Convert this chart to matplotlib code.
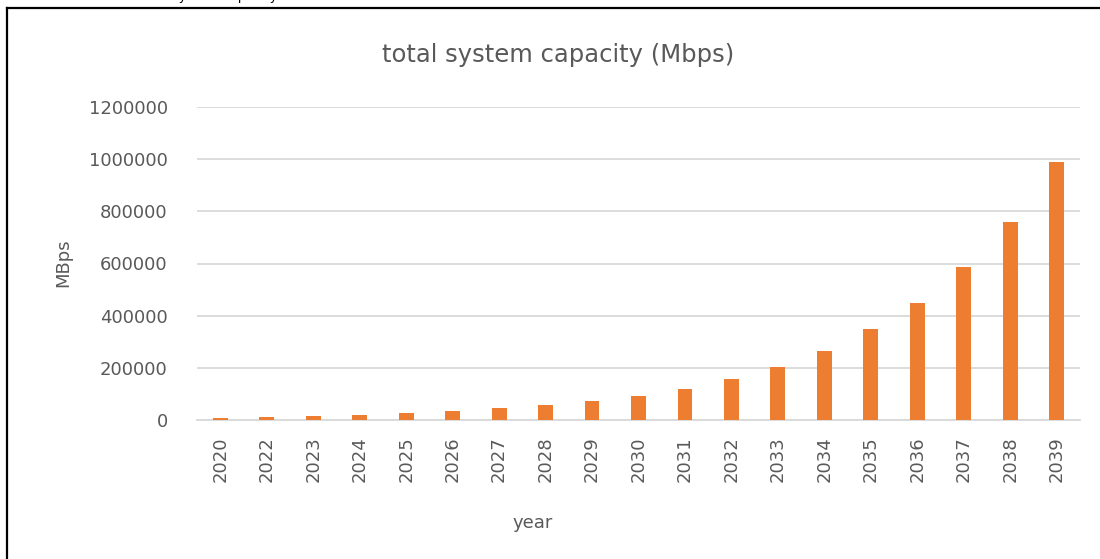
import matplotlib
matplotlib.use("Agg")
from matplotlib import pyplot as plt
from matplotlib import lines as mlines

years = ["2020", "2022", "2023", "2024", "2025", "2026", "2027", "2028", "2029", "2030",
         "2031", "2032", "2033", "2034", "2035", "2036", "2037", "2038", "2039"]
capacity = [6000, 10000, 14000, 19000, 27000, 36000, 46000, 56000, 73000, 93000,
            120000, 157000, 204000, 265000, 347000, 449000, 585000, 761000, 990000]
y_ticks = [0, 200000, 400000, 600000, 800000, 1000000, 1200000]

text_gray = "#595959"
bar_color = "#ED7D31"
grid_gray = "#D9D9D9"

plt.rcParams["font.family"] = ["DejaVu Sans"]

fig = plt.figure(figsize=(11, 5.59), dpi=100)
ax = fig.add_axes([197 / 1100, 1 - 420 / 559, (1080 - 197) / 1100, (420 - 107) / 559])

x = list(range(len(years)))
ax.bar(x, capacity, width=0.32, color=bar_color, zorder=3)

ax.set_xlim(-0.5, len(years) - 0.5)
ax.set_ylim(0, 1200000)
ax.set_yticks(y_ticks)
ax.set_yticklabels([str(v) for v in y_ticks])
ax.set_xticks(x)
ax.set_xticklabels(years, rotation=90)
ax.tick_params(axis="y", length=0, pad=21, labelsize=13, labelcolor=text_gray)
ax.tick_params(axis="x", length=0, pad=12, labelsize=13, labelcolor=text_gray)
ax.yaxis.grid(True, color=grid_gray, linewidth=1.3, zorder=0)
for side in ["top", "right", "left"]:
    ax.spines[side].set_visible(False)
ax.spines["bottom"].set_color(grid_gray)
ax.spines["bottom"].set_linewidth(1.3)

fig.text(558 / 1100, 1 - 55 / 559, "total system capacity (Mbps)", ha="center", va="center",
         fontsize=17.5, color=text_gray)
fig.text(63 / 1100, 1 - 263 / 559, "MBps", rotation=90, ha="center", va="center",
         fontsize=13, color=text_gray)
fig.text(533 / 1100, 1 - 523 / 559, "year", ha="center", va="center",
         fontsize=13, color=text_gray)

# caption above the frame, mostly cut off by the top edge
fig.text(172 / 1100, 1.0, "system capacity", ha="left", va="baseline",
         fontsize=9.3, color="black")

# chart frame (left and top edges)
fx, fy = 7 / 1100, 1 - 8 / 559
fig.add_artist(mlines.Line2D([fx, fx], [-0.05, fy], transform=fig.transFigure,
                             color="black", linewidth=1.6))
fig.add_artist(mlines.Line2D([fx, 1.05], [fy, fy], transform=fig.transFigure,
                             color="black", linewidth=1.6))

fig.savefig("out.png", dpi=100)
